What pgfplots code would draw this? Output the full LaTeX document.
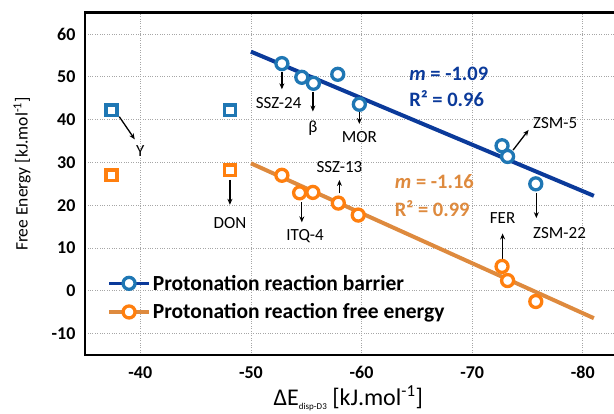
\documentclass[border=0pt]{standalone}
\usepackage{fontspec}
\setmainfont{Carlito}
\usepackage{pgfplots}
\pgfplotsset{compat=1.18}
\usetikzlibrary{arrows.meta}
\definecolor{ptblue}{HTML}{1F77B4}
\definecolor{ptorange}{HTML}{FF7F0E}
\definecolor{fitblue}{HTML}{0B3A9A}
\definecolor{fitorange}{HTML}{DE8A3E}
\tikzset{
  annot/.style={font=\fontsize{17}{20}\selectfont, text=black},
  arr/.style={-{Stealth[length=6pt,width=5pt]}, line width=1.3pt, black},
  fittxt/.style={anchor=west, font=\fontsize{20.5}{24}\selectfont\bfseries},
}

\begin{document}
\begin{tikzpicture}
\begin{axis}[
  name=ax,
  scale only axis,
  width=531pt, height=342.3pt,
  x dir=reverse,
  xmin=-83, xmax=-35, ymin=-15, ymax=65,
  xtick={-80,-70,-60,-50,-40},
  ytick={-10,0,10,20,30,40,50,60},
  grid=major,
  grid style={gray!70, dotted, line width=0.8pt},
  major tick length=0pt,
  axis line style={line width=2.6pt},
  ticklabel style={font=\fontsize{18}{21}\selectfont\bfseries},
  /pgf/number format/assume math mode=true,
  xticklabel style={yshift=-8pt},
  yticklabel style={xshift=-6pt},
  xlabel={ΔE\raisebox{-4pt}{\fontsize{9}{10}\selectfont disp-D3} [kJ.mol\textsuperscript{-1}]},
  ylabel={Free Energy [kJ.mol\textsuperscript{-1}]},
  xlabel style={font=\fontsize{24}{28}\selectfont, at={(axis cs:-58.8,-15)}, anchor=center, yshift=-43pt},
  ylabel style={font=\fontsize{17.5}{20}\selectfont, at={(axis cs:-35,27.3)}, anchor=center, yshift=63pt},
  legend style={draw=none, fill=none, at={(axis cs:-37,-1.6)}, anchor=west,
    font=\fontsize{21.5}{25}\selectfont\bfseries, row sep=8pt, inner sep=0pt},
  legend cell align=left,
]
% points
\addplot[only marks, mark=*, mark size=6pt, mark options={draw=ptblue, fill=white, line width=3.3pt}, forget plot]
coordinates {(-52.8,53.1) (-54.6,49.9) (-55.65,48.5) (-57.85,50.6) (-59.8,43.6) (-72.7,33.9) (-73.2,31.4) (-75.75,25.0)};
\addplot[only marks, mark=*, mark size=6pt, mark options={draw=ptorange, fill=white, line width=3.3pt}, forget plot]
coordinates {(-52.8,27.0) (-54.4,22.9) (-55.6,23.0) (-57.9,20.5) (-59.7,17.7) (-72.7,5.7) (-73.2,2.4) (-75.75,-2.5)};
\addplot[only marks, mark=square*, mark size=5.4pt, mark options={draw=ptblue, fill=white, line width=3.6pt}, forget plot]
coordinates {(-37.4,42.2) (-48.1,42.2)};
\addplot[only marks, mark=square*, mark size=5.4pt, mark options={draw=ptorange, fill=white, line width=3.6pt}, forget plot]
coordinates {(-37.4,27.0) (-48.1,28.2)};
% fits
\addplot[fitblue, line width=4pt, forget plot] coordinates {(-50,55.9) (-81,22.2)};
\addplot[fitorange, line width=4pt, forget plot] coordinates {(-50,29.8) (-81,-6.4)};

% annotations
\draw[arr] (axis cs:-52.8,51.2) -- (axis cs:-52.8,47.1);
\node[annot] at (axis cs:-52.5,43.8) {SSZ-24};
\draw[arr] (axis cs:-55.6,46.5) -- (axis cs:-55.6,41.9);
\node[annot] at (axis cs:-55.6,38.0) {β};
\draw[arr] (axis cs:-59.8,42.3) -- (axis cs:-59.8,39.0);
\node[annot] at (axis cs:-59.8,35.9) {MOR};
\draw[arr] (axis cs:-73.7,32.9) -- (axis cs:-75.1,37.6);
\node[annot] at (axis cs:-77.5,39.2) {ZSM-5};
\draw[arr] (axis cs:-75.8,22.9) -- (axis cs:-75.8,17.0);
\node[annot] at (axis cs:-77.9,13.4) {ZSM-22};
\draw[arr] (axis cs:-72.75,7.2) -- (axis cs:-72.75,13.4);
\node[annot] at (axis cs:-72.75,17.0) {FER};
\draw[arr] (axis cs:-58.0,22.8) -- (axis cs:-58.0,25.9);
\node[annot] at (axis cs:-58.0,29.0) {SSZ-13};
\draw[arr] (axis cs:-54.6,20.8) -- (axis cs:-54.6,16.0);
\node[annot] at (axis cs:-54.9,12.8) {ITQ-4};
\draw[arr] (axis cs:-38.1,40.7) -- (axis cs:-39.5,35.4);
\node[annot] at (axis cs:-40.0,32.6) {Y};
\draw[arr] (axis cs:-48.1,25.9) -- (axis cs:-48.1,20.1);
\node[annot] at (axis cs:-48.1,15.9) {DON};

\node[fittxt, text=fitblue] at (axis cs:-64.0,50.8) {\textit{m} = -1.09};
\node[fittxt, text=fitblue] at (axis cs:-64.0,45.0) {R² = 0.96};
\node[fittxt, text=fitorange] at (axis cs:-62.7,25.5) {\textit{m} = -1.16};
\node[fittxt, text=fitorange] at (axis cs:-62.7,19.3) {R² = 0.99};

\addlegendimage{legend image code/.code={
  \draw[fitblue, line width=3.5pt] (0pt,0pt) -- (40pt,0pt);
  \draw[ptblue, line width=3.3pt, fill=white] (20pt,0pt) circle (6pt);}}
\addlegendentry{Protonation reaction barrier}
\addlegendimage{legend image code/.code={
  \draw[fitorange, line width=3.5pt] (0pt,0pt) -- (40pt,0pt);
  \draw[ptorange, line width=3.3pt, fill=white] (20pt,0pt) circle (6pt);}}
\addlegendentry{Protonation reaction free energy}
\end{axis}
\pgfresetboundingbox
\path ([shift={(-85pt,-59pt)}]ax.south west) rectangle ([shift={(529pt,355pt)}]ax.south west);
\end{tikzpicture}
\end{document}
